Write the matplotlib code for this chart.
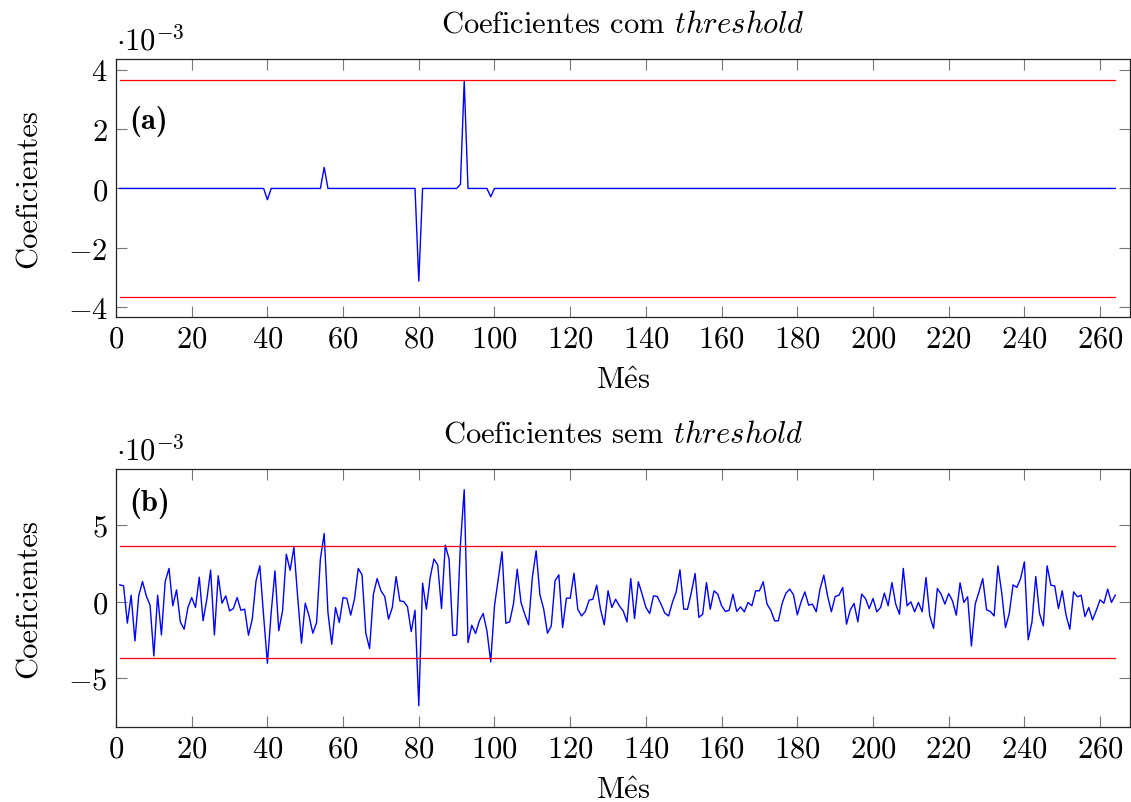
import numpy as np
import matplotlib
matplotlib.use("Agg")
import matplotlib.pyplot as plt
from matplotlib.ticker import FixedLocator, FuncFormatter

# ---------------- data (values in units of 1e-3) ----------------
months = np.arange(1, 265)

coef_sem = [
    1.10, 1.03, -1.40, 0.42, -2.56, 0.38, 1.32, 0.38, -0.23, -3.54,
    0.42, -2.17, 1.32, 2.17, -0.27, 0.77, -1.32, -1.80, -0.38, 0.27,
    -0.38, 1.60, -1.25, 0.16, 2.06, -2.17, 1.69, -0.10, 0.38, -0.60,
    -0.45, 0.27, -0.56, -0.49, -2.19, -1.14, 1.36, 2.34, -0.93, -4.02,
    -0.71, 2.01, -1.90, -0.60, 3.10, 2.05, 3.54, 0.30, -2.71, -0.10,
    -0.93, -2.06, -1.36, 2.78, 4.45, -0.71, -2.78, -0.38, -1.36, 0.27,
    0.21, -0.88, 0.16, 2.17, 1.75, -2.06, -3.06, 0.49, 1.51, 0.71,
    0.34, -1.14, -0.38, 1.64, 0.05, 0.01, -0.32, -1.95, -0.56, -6.80,
    1.21, -0.49, 1.58, 2.78, 2.39, -0.45, 3.69, 2.78, -2.21, -2.17,
    3.75, 7.31, -2.67, -1.54, -2.08, -1.25, -0.77, -1.91, -3.93, -0.27,
    1.47, 3.26, -1.41, -1.32, -0.16, 2.12, -0.05, -0.82, -1.51, 1.58,
    3.32, 0.45, -0.49, -2.06, -1.58, 1.36, 1.75, -1.69, 0.23, 0.23,
    1.86, -0.49, -0.93, -0.64, 0.10, 0.16, 1.08, -0.49, -1.51, 0.71,
    -0.38, 0.16, -0.28, -0.60, -1.32, 1.51, -1.10, 1.30, 0.49, -0.38,
    -0.77, 0.38, 0.34, -0.16, -0.75, -0.93, -0.05, 0.64, 2.08, -0.49,
    -0.49, 0.60, 1.84, -1.03, -0.82, 1.25, -0.49, 0.71, 0.49, -0.27,
    -0.64, -0.56, 0.49, -0.64, -0.34, -0.66, -0.05, -0.27, 0.71, 0.71,
    1.30, -0.16, -0.56, -1.25, -1.25, -0.10, 0.56, 0.82, 0.45, -0.86,
    -0.01, 0.64, -0.23, -0.16, -0.66, 0.82, 1.73, 0.38, -0.66, 0.34,
    0.42, 0.93, -1.47, -0.53, -0.12, -1.32, 0.49, 0.21, -0.45, 0.21,
    -0.66, -0.38, 0.56, -0.27, 1.25, -0.16, -0.82, 2.17, -0.27, -0.01,
    -0.66, -0.05, -0.66, 1.58, -0.93, -1.75, 0.86, 0.49, -0.16, 0.53,
    0.05, -0.88, 1.23, -0.05, 0.32, -2.89, -0.16, 0.64, 1.51, -0.53,
    -0.64, -0.93, 2.34, 0.60, -1.69, -0.77, 1.10, 0.93, 1.51, 2.60,
    -2.49, -1.32, 1.64, -0.77, -1.58, 2.34, 1.08, 1.03, -0.45, 0.71,
    -0.88, -1.80, 0.64, 0.32, 0.42, -0.97, -0.38, -1.19, -0.56, 0.12,
    -0.10, 0.82, -0.05, 0.42,
]

# thresholded coefficients: non-zero months and their values
com_months = [40, 55, 80, 91, 92, 99]
com_values = [-0.38, 0.71, -3.12, 0.14, 3.62, -0.28]

threshold = 3.65

xticks = list(range(0, 261, 20))
yticks_a = [-4, -2, 0, 2, 4]
yticks_b = [-5, 0, 5]

# ---------------- style ----------------
plt.rcParams["font.family"] = ["cmr10", "DejaVu Serif"]
plt.rcParams["mathtext.fontset"] = "cm"
plt.rcParams["axes.unicode_minus"] = False
FS = 22

coef_com = np.zeros(len(months))
for m, v in zip(com_months, com_values):
    coef_com[m - 1] = v

fig = plt.figure(figsize=(11.31, 8.03), dpi=100)
W, H = 1131, 803

def make_ax(left, top, right, bottom):
    return fig.add_axes([left / W, 1 - bottom / H, (right - left) / W, (bottom - top) / H])

ax_a = make_ax(116, 60, 1130, 318)
ax_b = make_ax(116, 470, 1130, 728)

mfmt = FuncFormatter(lambda v, p: "$%d$" % int(round(v)))

def style(ax, yt, ylim):
    ax.set_xlim(0, 267.9)
    ax.set_ylim(*ylim)
    ax.xaxis.set_major_locator(FixedLocator(xticks))
    ax.yaxis.set_major_locator(FixedLocator(yt))
    ax.xaxis.set_major_formatter(mfmt)
    ax.yaxis.set_major_formatter(mfmt)
    ax.tick_params(direction="in", length=8, width=0.8, color="#777777",
                   top=True, right=True, labelsize=FS, pad=6)
    for s in ax.spines.values():
        s.set_linewidth(0.9)
        s.set_color("#222222")
    ax.set_xlabel(r"$\mathrm{M\hat{e}s}$", fontsize=FS, labelpad=10)
    ax.set_ylabel("Coeficientes", fontsize=FS)
    ax.yaxis.set_label_coords(-73 / 1014, 0.5)

# panel (a)
ax_a.plot(months, coef_com, color="blue", lw=1.0)
ax_a.plot(months, np.full(len(months), threshold), color="red", lw=0.9)
ax_a.plot(months, np.full(len(months), -threshold), color="red", lw=0.9)
style(ax_a, yticks_a, (-4.33, 4.36))
ax_a.set_title(r"Coeficientes com $\mathit{threshold}$", fontsize=FS, pad=20)
ax_a.text(0.013, 0.76, "(a)", transform=ax_a.transAxes,
          fontsize=FS, va="center", ha="left", family=["cmb10", "DejaVu Serif"])

# panel (b)
ax_b.plot(months, coef_sem, color="blue", lw=1.0)
ax_b.plot(months, np.full(len(months), threshold), color="red", lw=0.9)
ax_b.plot(months, np.full(len(months), -threshold), color="red", lw=0.9)
style(ax_b, yticks_b, (-8.18, 8.66))
ax_b.set_title(r"Coeficientes sem $\mathit{threshold}$", fontsize=FS, pad=20)
ax_b.text(0.013, 0.872, "(b)", transform=ax_b.transAxes,
          fontsize=FS, va="center", ha="left", family=["cmb10", "DejaVu Serif"])

# scale labels
fig.text(116 / W, 1 - 50 / H, r"$\cdot 10^{-3}$", fontsize=FS, ha="left", va="baseline")
fig.text(116 / W, 1 - 460 / H, r"$\cdot 10^{-3}$", fontsize=FS, ha="left", va="baseline")

fig.savefig("out.png", dpi=100)
